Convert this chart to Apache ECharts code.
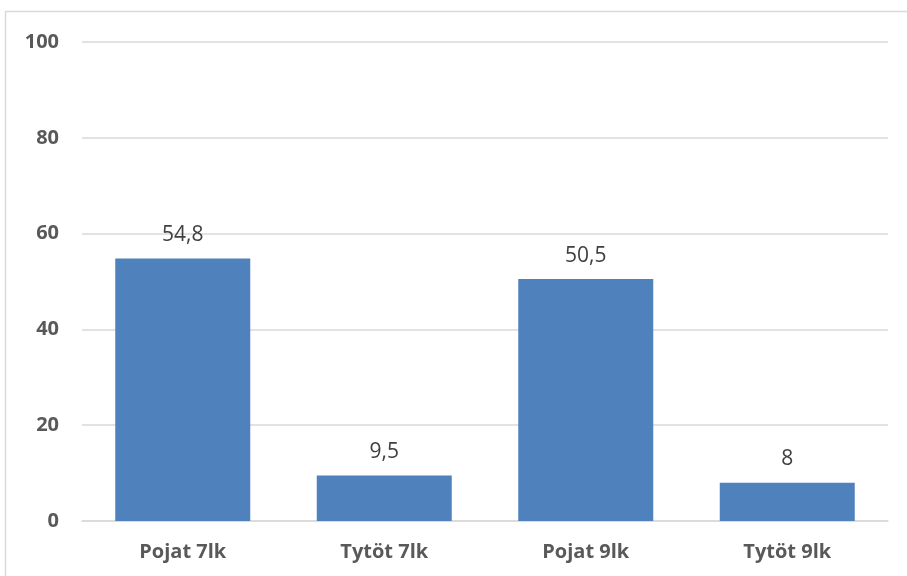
<!DOCTYPE html>
<html>
<head>
<meta charset="utf-8">
<script src="https://cdn.jsdelivr.net/npm/echarts@6/dist/echarts.min.js"></script>
<style>html,body{margin:0;padding:0;background:#fff;}#c{width:907px;height:576px;}</style>
</head>
<body>
<div id="c"></div>
<script>
var categories = ['Pojat 7lk', 'Tytöt 7lk', 'Pojat 9lk', 'Tytöt 9lk'];
var values = [54.8, 9.5, 50.5, 8];
var yMin = 0, yMax = 100, yStep = 20;

var chart = echarts.init(document.getElementById('c'), null, {renderer: 'canvas'});
chart.setOption({
  animation: false,
  graphic: [{
    type: 'rect', silent: true,
    shape: {x: 5.5, y: 11.5, width: 1000, height: 1000},
    style: {fill: 'none', stroke: '#d9d9d9', lineWidth: 1.5}
  }],
  grid: {left: 82, right: 19, top: 42, bottom: 55, containLabel: false},
  xAxis: {
    type: 'category', data: categories,
    axisLine: {lineStyle: {color: '#d9d9d9', width: 1.5}},
    axisTick: {show: false},
    axisLabel: {margin: 21, fontFamily: 'Open Sans', fontWeight: 'bold', fontSize: 20, color: '#595959'}
  },
  yAxis: {
    type: 'value', min: yMin, max: yMax, interval: yStep,
    axisLine: {show: false}, axisTick: {show: false},
    splitLine: {lineStyle: {color: '#d9d9d9', width: 1.5}},
    axisLabel: {margin: 23, fontFamily: 'Open Sans', fontWeight: 'bold', fontSize: 20, color: '#595959'}
  },
  series: [{
    type: 'bar', data: values, barCategoryGap: '33%',
    itemStyle: {color: '#4f81bd'},
    label: {
      show: true, position: 'top', distance: 13,
      fontFamily: 'Open Sans', fontSize: 21, color: '#404040',
      formatter: function (p) { return String(p.value).replace('.', ','); }
    }
  }]
});
</script>
</body>
</html>
